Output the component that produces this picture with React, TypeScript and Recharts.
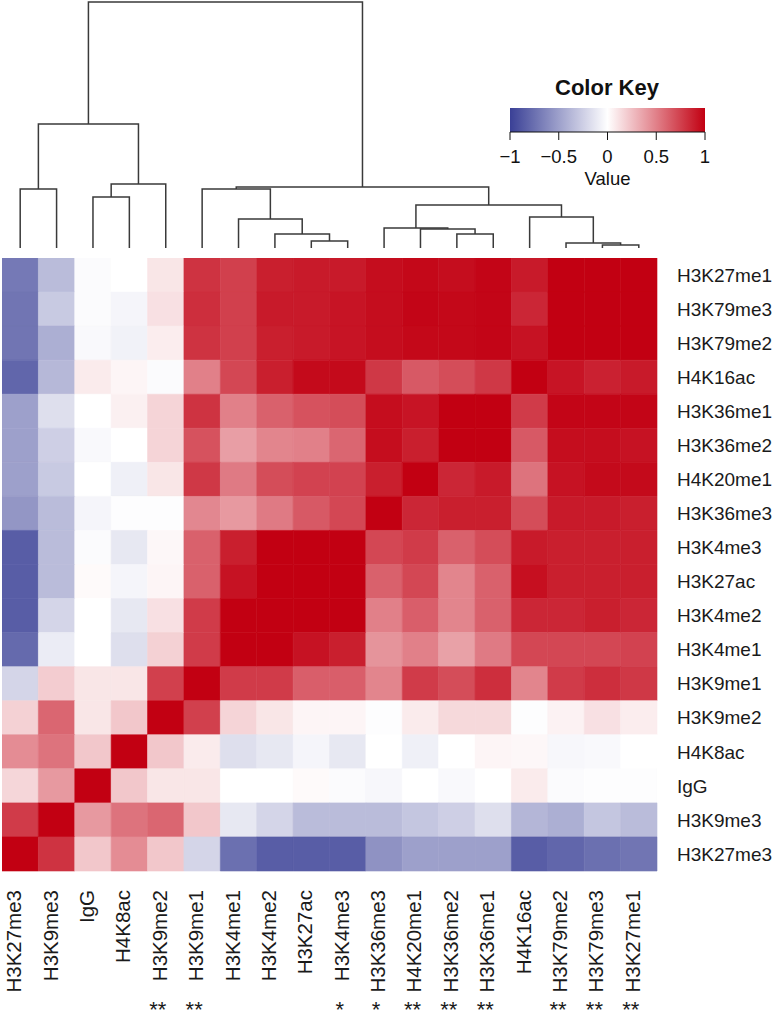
import { ComposedChart, Line, Scatter, XAxis, YAxis, ReferenceArea } from "recharts"

const FONT = "'Liberation Sans', Arial, Helvetica, sans-serif"

// column order left -> right (rows are the same marks, bottom -> top)
const columns = [
  "H3K27me3", "H3K9me3", "IgG", "H4K8ac", "H3K9me2", "H3K9me1", "H3K4me1", "H3K4me2", "H3K27ac",
  "H3K4me3", "H3K36me3", "H4K20me1", "H3K36me2", "H3K36me1", "H4K16ac", "H3K79me2", "H3K79me3", "H3K27me1",
]
const rows = [...columns].reverse()
const stars = ["", "", "", "", "**", "**", "", "", "", "*", "*", "**", "**", "**", "", "**", "**", "**"]

// correlation values, one array per row (top -> bottom), columns left -> right
const values: number[][] = [
  [-0.7, -0.35, -0.02, 0.0, 0.1, 0.8, 0.75, 0.88, 0.9, 0.9, 0.95, 0.97, 0.95, 0.98, 0.9, 1.0, 1.0, 1.0],
  [-0.72, -0.28, -0.02, -0.05, 0.12, 0.82, 0.75, 0.9, 0.9, 0.92, 0.95, 0.98, 0.97, 0.98, 0.85, 1.0, 1.0, 1.0],
  [-0.72, -0.42, -0.03, -0.07, 0.07, 0.8, 0.75, 0.88, 0.9, 0.92, 0.95, 0.97, 0.97, 0.98, 0.93, 1.0, 1.0, 1.0],
  [-0.8, -0.37, 0.08, 0.04, -0.02, 0.5, 0.72, 0.88, 0.96, 0.96, 0.78, 0.65, 0.7, 0.78, 1.0, 0.92, 0.87, 0.9],
  [-0.5, -0.17, 0.0, 0.06, 0.17, 0.8, 0.5, 0.62, 0.68, 0.7, 0.95, 0.92, 1.0, 1.0, 0.77, 0.98, 0.98, 0.98],
  [-0.5, -0.25, -0.03, 0.0, 0.17, 0.68, 0.38, 0.48, 0.5, 0.6, 0.95, 0.88, 1.0, 1.0, 0.65, 0.95, 0.95, 0.93],
  [-0.5, -0.28, 0.0, -0.08, 0.1, 0.78, 0.52, 0.7, 0.74, 0.74, 0.88, 1.0, 0.85, 0.9, 0.55, 0.93, 0.96, 0.96],
  [-0.55, -0.35, -0.05, -0.01, -0.01, 0.47, 0.4, 0.52, 0.65, 0.72, 1.0, 0.85, 0.88, 0.88, 0.7, 0.9, 0.9, 0.88],
  [-0.85, -0.35, -0.02, -0.12, 0.03, 0.62, 0.88, 1.0, 1.0, 1.0, 0.72, 0.77, 0.62, 0.7, 0.9, 0.88, 0.88, 0.88],
  [-0.85, -0.35, 0.02, -0.05, 0.04, 0.62, 0.93, 1.0, 1.0, 1.0, 0.62, 0.72, 0.48, 0.62, 0.94, 0.88, 0.88, 0.88],
  [-0.85, -0.22, 0.0, -0.12, 0.12, 0.77, 1.0, 1.0, 1.0, 1.0, 0.5, 0.63, 0.48, 0.62, 0.85, 0.85, 0.88, 0.85],
  [-0.78, -0.1, 0.0, -0.17, 0.18, 0.77, 1.0, 1.0, 0.93, 0.88, 0.42, 0.5, 0.37, 0.52, 0.72, 0.72, 0.72, 0.74],
  [-0.22, 0.2, 0.1, 0.1, 0.75, 1.0, 0.77, 0.77, 0.63, 0.63, 0.48, 0.77, 0.7, 0.82, 0.48, 0.77, 0.82, 0.78],
  [0.18, 0.6, 0.1, 0.22, 1.0, 0.75, 0.17, 0.1, 0.04, 0.04, -0.01, 0.08, 0.15, 0.15, -0.01, 0.05, 0.12, 0.07],
  [0.45, 0.55, 0.22, 1.0, 0.22, 0.08, -0.17, -0.12, -0.05, -0.12, 0.0, -0.08, 0.0, 0.04, 0.03, -0.04, -0.03, 0.0],
  [0.16, 0.4, 1.0, 0.22, 0.1, 0.1, 0.0, 0.0, 0.02, -0.02, -0.04, 0.0, -0.03, 0.0, 0.08, -0.02, -0.01, -0.01],
  [0.77, 1.0, 0.4, 0.55, 0.6, 0.22, -0.12, -0.22, -0.35, -0.35, -0.35, -0.3, -0.25, -0.17, -0.38, -0.42, -0.3, -0.35],
  [1.0, 0.8, 0.22, 0.45, 0.22, -0.22, -0.75, -0.85, -0.85, -0.85, -0.57, -0.5, -0.5, -0.5, -0.85, -0.8, -0.75, -0.72],
]

// hclust-style merges: negative = leaf (column index + 1), positive = earlier merge
const merges: [number, number][] = [
  [-17, -18], [-16, 1], [-9, -10], [-8, 3], [-13, -14], [-12, 5], [-11, 6], [-7, 4], [-15, 2],
  [7, 9], [-3, -4], [-1, -2], [-6, 8], [13, 10], [11, -5], [12, 15], [16, 14],
]
const mergeHeights = [
  0.024, 0.041, 0.057, 0.114, 0.114, 0.154, 0.163, 0.236, 0.252,
  0.35, 0.415, 0.48, 0.48, 0.496, 0.52, 1.008, 2.0,
]

const keyTicks = [-1, -0.5, 0, 0.5, 1]
const keyStops = [-1, -0.75, -0.5, -0.25, 0, 0.25, 0.5, 0.75, 1]

const LOW = [58, 64, 150]
const HIGH = [194, 0, 18]

function colorFor(v: number) {
  const end = v < 0 ? LOW : HIGH
  const t = Math.min(1, Math.abs(v))
  const c = end.map((e) => Math.round(255 + (e - 255) * t))
  return `rgb(${c[0]},${c[1]},${c[2]})`
}

function buildSegments() {
  const nodeX: number[] = []
  const nodeH: number[] = []
  const pos = (id: number) => (id < 0 ? { x: -id - 0.5, h: 0 } : { x: nodeX[id - 1], h: nodeH[id - 1] })
  return merges.map(([a, b], i) => {
    const pa = pos(a)
    const pb = pos(b)
    const h = mergeHeights[i]
    nodeX[i] = (pa.x + pb.x) / 2
    nodeH[i] = h
    return [
      { x: pa.x, y: pa.h },
      { x: pa.x, y: h },
      { x: pb.x, y: h },
      { x: pb.x, y: pb.h },
    ]
  })
}

const segments = buildSegments()
const colTicks = columns.map((_, i) => i + 0.5)
const rowTicks = rows.map((_, i) => i + 0.5)
const cellCenters = values.flatMap((row, r) => row.map((v, c) => ({ x: c + 0.5, y: r + 0.5, v })))
const keyExtent = [
  { x: -1, y: 0 },
  { x: 1, y: 1 },
]

const Empty = () => <g />

function ColumnTick({ x, y, payload }: any) {
  const i = Math.floor(payload.value)
  return (
    <g transform={`translate(${x},${y})`}>
      <text transform="rotate(-90)" textAnchor="end" x={0} y={1} fontSize={20.5} fill="#1a1a1a" fontFamily={FONT}>
        {columns[i]}
      </text>
      <text x={-8} y={127} textAnchor="middle" fontSize={22} fill="#1a1a1a" fontFamily={FONT}>
        {stars[i]}
      </text>
    </g>
  )
}

export default function App() {
  return (
    <div style={{ position: "absolute", left: 0, top: 0, width: 782, height: 1022, background: "#fff", overflow: "hidden" }}>
      {/* column dendrogram */}
      <div style={{ position: "absolute", left: 2, top: 0 }}>
        <ComposedChart width={655} height={250} margin={{ top: 2, right: 0, bottom: 2, left: 0 }}>
          <XAxis type="number" dataKey="x" domain={[0, 18]} hide />
          <YAxis type="number" domain={[0, 2]} hide />
          {segments.map((seg, i) => (
            <Line
              key={i}
              data={seg}
              dataKey="y"
              type="linear"
              stroke="#3a3a3a"
              strokeWidth={1.5}
              dot={false}
              activeDot={false}
              isAnimationActive={false}
            />
          ))}
        </ComposedChart>
      </div>

      {/* heatmap */}
      <div style={{ position: "absolute", left: 2, top: 258 }}>
        <ComposedChart width={780} height={764} data={cellCenters} margin={{ top: 0, right: 0, bottom: 0, left: 0 }}>
          <XAxis
            type="number"
            dataKey="x"
            domain={[0, 18]}
            ticks={colTicks}
            interval={0}
            height={151}
            axisLine={false}
            tickLine={false}
            tickSize={19}
            tickMargin={0}
            tick={<ColumnTick />}
          />
          <YAxis
            type="number"
            dataKey="y"
            orientation="right"
            domain={[0, 18]}
            reversed
            ticks={rowTicks}
            interval={0}
            width={125}
            axisLine={false}
            tickLine={false}
            tickSize={6}
            tickMargin={14}
            tickFormatter={(v: number) => rows[Math.floor(v)]}
            tick={{ fontSize: 19, fill: "#1a1a1a", fontFamily: FONT }}
          />
          <Scatter data={cellCenters} dataKey="y" shape={Empty} isAnimationActive={false} />
          {values.map((row, r) =>
            row.map((v, c) => {
              const fill = colorFor(v)
              return (
                <ReferenceArea
                  key={`${r}-${c}`}
                  x1={c}
                  x2={c + 1}
                  y1={r}
                  y2={r + 1}
                  fill={fill}
                  fillOpacity={1}
                  stroke={fill}
                  strokeWidth={0.6}
                />
              )
            })
          )}
        </ComposedChart>
      </div>

      {/* colour key */}
      <div
        style={{
          position: "absolute",
          left: 507,
          top: 77,
          width: 200,
          textAlign: "center",
          fontFamily: FONT,
          fontWeight: "bold",
          fontSize: 22,
          lineHeight: "22px",
          color: "#111",
        }}
      >
        Color Key
      </div>
      <div style={{ position: "absolute", left: 490, top: 100 }}>
        <ComposedChart width={235} height={95} data={keyExtent} margin={{ top: 8, right: 20, bottom: 0, left: 20 }}>
          <defs>
            <linearGradient id="keyGradient" x1="0" y1="0" x2="1" y2="0">
              {keyStops.map((v) => (
                <stop key={v} offset={`${((v + 1) / 2) * 100}%`} stopColor={colorFor(v)} />
              ))}
            </linearGradient>
          </defs>
          <XAxis
            type="number"
            dataKey="x"
            domain={[-1, 1]}
            ticks={keyTicks}
            interval={0}
            height={63}
            stroke="#111"
            tickSize={8}
            tickMargin={10}
            tick={{ fontSize: 18.5, fill: "#111", fontFamily: FONT }}
            tickFormatter={(v: number) => (v < 0 ? `\u2212${Math.abs(v)}` : `${v}`)}
            label={{ value: "Value", position: "insideBottom", offset: 10, fontSize: 18.5, fill: "#111", fontFamily: FONT }}
          />
          <YAxis type="number" dataKey="y" domain={[0, 1]} hide />
          <Scatter data={keyExtent} dataKey="y" shape={Empty} isAnimationActive={false} />
          <ReferenceArea x1={-1} x2={1} y1={0} y2={1} fill="url(#keyGradient)" fillOpacity={1} stroke="none" />
        </ComposedChart>
      </div>
    </div>
  )
}
